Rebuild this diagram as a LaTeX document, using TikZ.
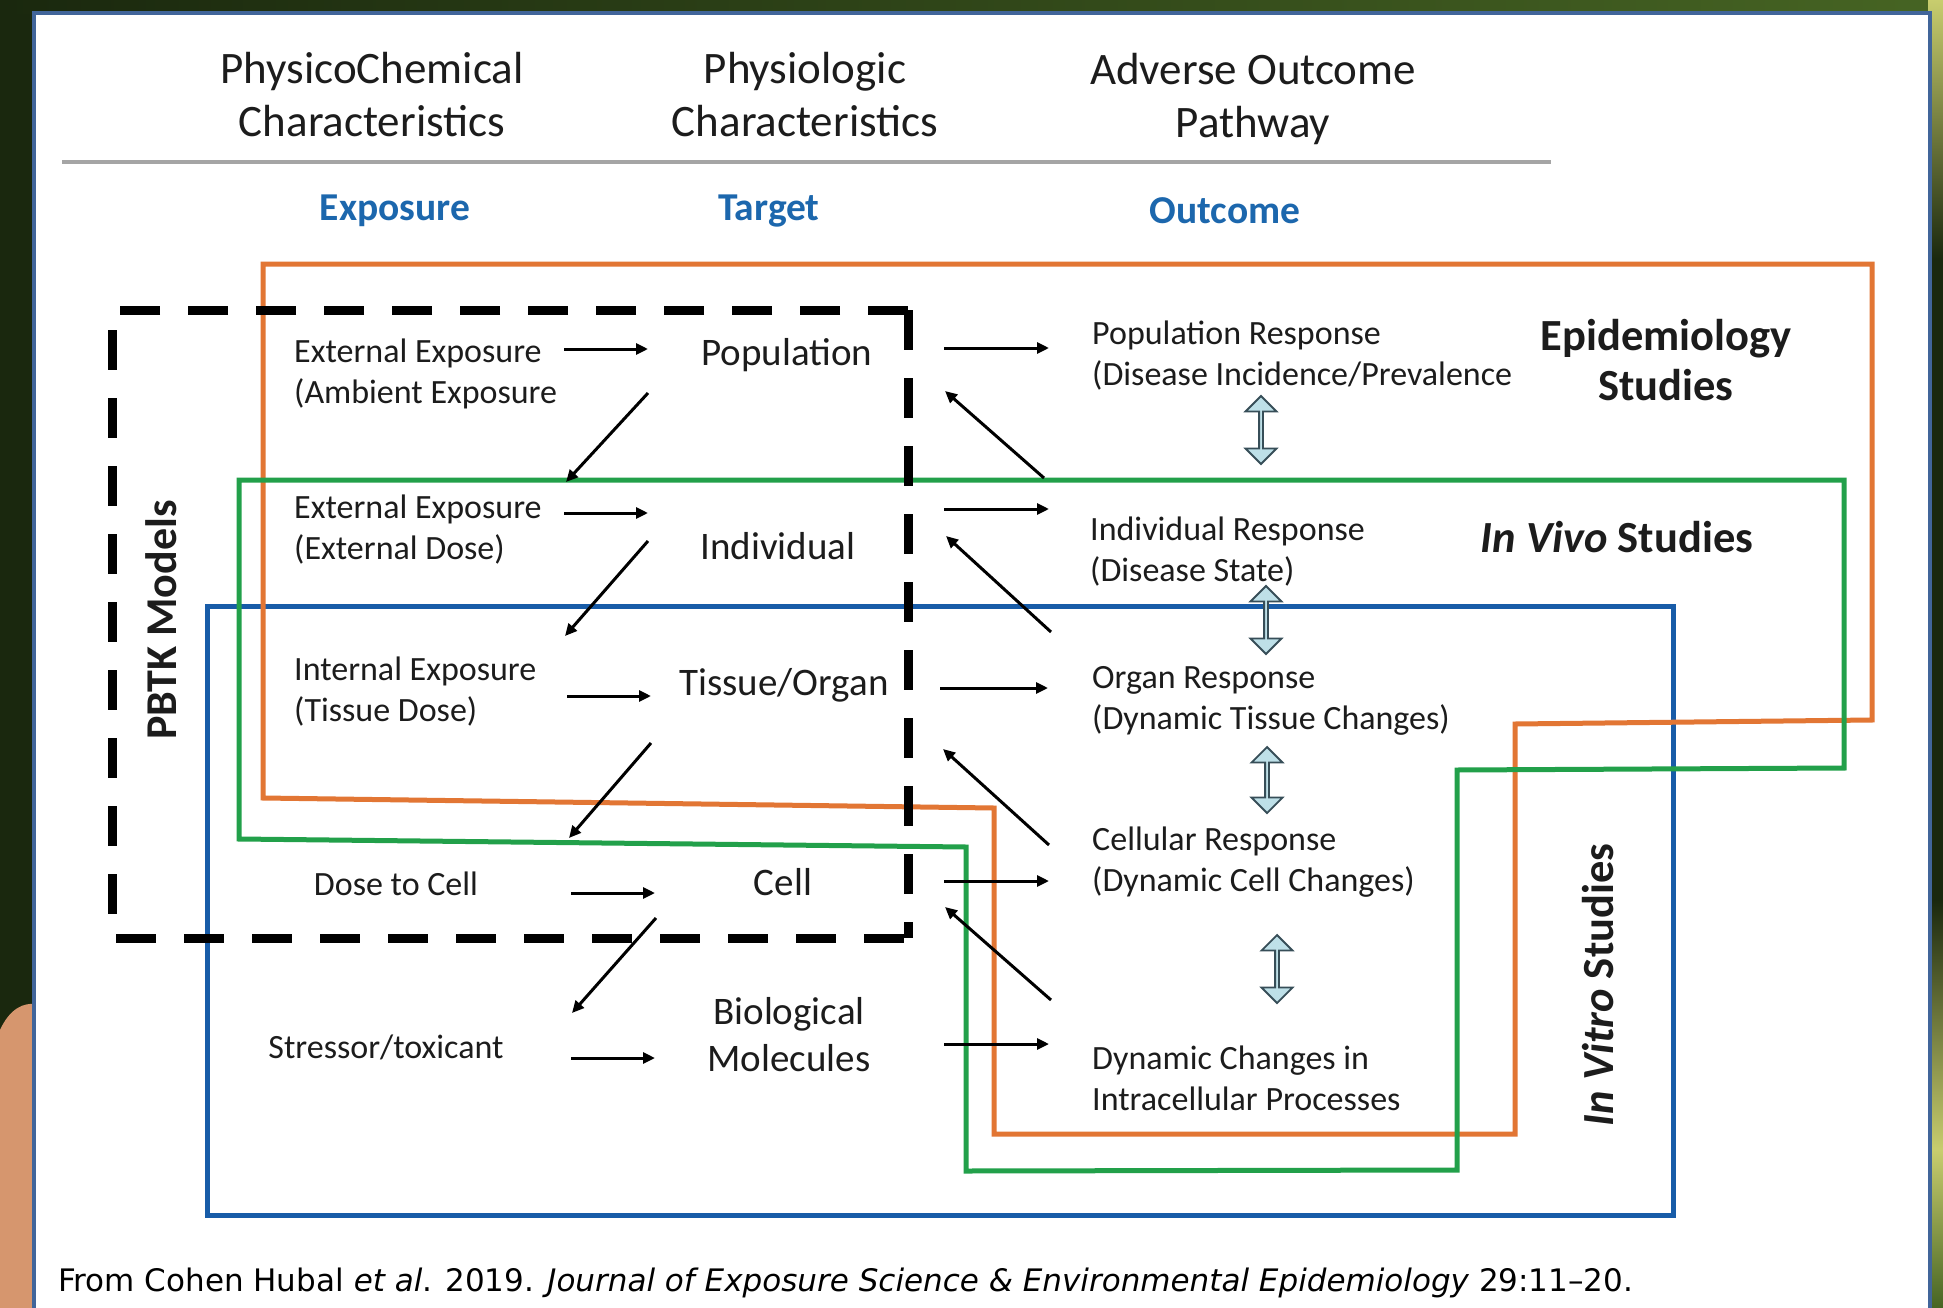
\documentclass[tikz,border=0pt]{standalone}
\usepackage{fontspec}
\setmainfont{Carlito}
\newfontfamily\capfont{DejaVu Sans}
\usetikzlibrary{arrows.meta,shapes.arrows}

\definecolor{panelrim}{RGB}{65,101,154}
\definecolor{rulegray}{RGB}{165,165,165}
\definecolor{headblue}{RGB}{28,103,173}
\definecolor{epiorange}{RGB}{226,118,52}
\definecolor{vivogreen}{RGB}{34,160,74}
\definecolor{vitroblue}{RGB}{24,92,168}
\definecolor{boxfill}{RGB}{190,224,232}
\definecolor{boxrim}{RGB}{55,78,88}
\definecolor{leafdark}{RGB}{26,40,14}
\definecolor{leafmid}{RGB}{70,100,35}
\definecolor{leaflight}{RGB}{200,205,110}
\definecolor{skin}{RGB}{214,150,110}
\definecolor{ink}{RGB}{28,28,28}

\begin{document}
\begin{tikzpicture}[x=1pt,y=-1pt,
  every node/.style={inner sep=0pt,text=ink},
  hdr/.style={font=\fontsize{45}{53}\selectfont,align=center},
  colhead/.style={font=\bfseries\fontsize{39.5}{46}\selectfont,text=headblue},
  lcol/.style={font=\fontsize{34}{41}\selectfont,align=left,anchor=west},
  ccol/.style={font=\fontsize{34}{41}\selectfont},
  mcol/.style={font=\fontsize{39}{47}\selectfont,align=center},
  study/.style={font=\bfseries\fontsize{44.5}{50}\selectfont,align=center},
  flow/.style={line width=3pt,-{Triangle[length=12pt,width=11pt]}},
  frameline/.style={line width=5pt,line join=miter},
  updown/.style={double arrow,draw=boxrim,fill=boxfill,line width=1.8pt,
    rotate=90,minimum width=31pt,double arrow head extend=6.5pt,
    double arrow tip angle=90,inner sep=0pt}]

\useasboundingbox (0,0) rectangle (1943,1308);
\clip (0,0) rectangle (1943,1308);

% slide background around the white panel
\fill[leafdark] (0,0) rectangle (1943,1308);
\shade[left color=leafdark,right color=leafmid] (0,0) rectangle (1943,14);
\shade[top color=leaflight,bottom color=leafdark] (1928,0) rectangle (1943,260);
\shade[top color=leafdark,bottom color=leaflight] (1928,900) rectangle (1943,1150);
\shade[top color=leaflight,bottom color=leafmid] (1928,1150) rectangle (1943,1308);
\fill[skin] (0,1308) -- (0,1030) .. controls (10,1008) and (24,1003) .. (34,1004) -- (34,1308) -- cycle;

% white panel
\filldraw[fill=white,draw=panelrim,line width=4pt] (34,13) rectangle (1930,1330);

% column titles
\node[hdr] (hphys) at (372,95) {PhysicoChemical\\Characteristics};
\node[hdr] (hphysio) at (805,95) {Physiologic\\Characteristics};
\node[hdr] (haop) at (1253,99) {Adverse Outcome\\Pathway};
\draw[rulegray,line width=4pt] (62,162) -- (1551,162);

\node[colhead] (cexp) at (395,211) {Exposure};
\node[colhead] (ctar) at (769,211) {Target};
\node[colhead] (cout) at (1225,211) {Outcome};

% study scopes
\draw[frameline,vitroblue] (207,606) rectangle (1673,1215);
\draw[frameline,epiorange] (263,264) -- (1872,264) -- (1872,720) -- (1515,724)
  -- (1515,1134) -- (994,1134) -- (994,808) -- (263,798) -- cycle;
\draw[frameline,vivogreen] (239,480) -- (1844,480) -- (1844,768) -- (1457,770)
  -- (1457,1170) -- (966,1171) -- (966,847) -- (239,839) -- cycle;

% PBTK model boundary
\draw[line width=9pt,dash pattern=on 40pt off 28pt] (908,310) -- (112,310) -- (112,938) -- (908,938);
\draw[line width=9pt,dash pattern=on 40pt off 28pt] (908,310) -- (908,938);
\node[font=\bfseries\fontsize{44}{50}\selectfont,rotate=90] (pbtk) at (161,620) {PBTK Models};

% exposure column
\node[lcol] (ex1) at (294,374) {External Exposure\\(Ambient Exposure};
\node[lcol] (ex2) at (294,530) {External Exposure\\(External Dose)};
\node[lcol] (ex3) at (294,692) {Internal Exposure\\(Tissue Dose)};
\node[ccol] (ex4) at (396,884) {Dose to Cell};
\node[ccol] (ex5) at (386,1047) {Stressor/toxicant};

% target column
\node[mcol] (tg1) at (787,355) {Population};
\node[mcol] (tg2) at (778,546) {Individual};
\node[mcol] (tg3) at (784,685) {Tissue/Organ};
\node[mcol] (tg4) at (783,882) {Cell};
\node[mcol] (tg5) at (789,1035) {Biological\\Molecules};

% outcome column
\node[lcol] (oc1) at (1092,356) {Population Response\\(Disease Incidence/Prevalence};
\node[lcol] (oc2) at (1090,552) {Individual Response\\(Disease State)};
\node[lcol] (oc3) at (1092,701) {Organ Response\\(Dynamic Tissue Changes)};
\node[lcol] (oc4) at (1092,862) {Cellular Response\\(Dynamic Cell Changes)};
\node[lcol] (oc5) at (1092,1078) {Dynamic Changes in\\Intracellular Processes};

% study labels
\node[study] (epi) at (1666,360) {Epidemiology\\Studies};
\node[study] (vivo) at (1617,537) {\textit{In Vivo} Studies};
\node[study,rotate=90] (vitro) at (1598,985) {\textit{In Vitro} Studies};

% exposure to target
\coordinate (p1a) at (564,349); \coordinate (p1b) at (648,349);
\coordinate (p2a) at (564,513); \coordinate (p2b) at (648,513);
\coordinate (p3a) at (567,696); \coordinate (p3b) at (651,696);
\coordinate (p4a) at (571,893); \coordinate (p4b) at (655,893);
\coordinate (p5a) at (571,1058); \coordinate (p5b) at (655,1058);
\foreach \k in {1,...,5} \draw[flow] (p\k a) -- (p\k b);

% target down to next exposure level
\coordinate (q1a) at (648,393); \coordinate (q1b) at (566,482);
\coordinate (q2a) at (648,541); \coordinate (q2b) at (565,636);
\coordinate (q3a) at (651,743); \coordinate (q3b) at (569,838);
\coordinate (q4a) at (656,918); \coordinate (q4b) at (572,1013);
\foreach \k in {1,...,4} \draw[flow] (q\k a) -- (q\k b);

% target to outcome
\coordinate (r1a) at (944,348); \coordinate (r1b) at (1049,348);
\coordinate (r2a) at (944,509); \coordinate (r2b) at (1049,509);
\coordinate (r3a) at (940,688); \coordinate (r3b) at (1048,688);
\coordinate (r4a) at (944,881); \coordinate (r4b) at (1049,881);
\coordinate (r5a) at (944,1044); \coordinate (r5b) at (1049,1044);
\foreach \k in {1,...,5} \draw[flow] (r\k a) -- (r\k b);

% outcome feeding back to target
\coordinate (s1a) at (1044,478); \coordinate (s1b) at (945,391);
\coordinate (s2a) at (1051,632); \coordinate (s2b) at (946,536);
\coordinate (s3a) at (1049,845); \coordinate (s3b) at (943,749);
\coordinate (s4a) at (1051,1000); \coordinate (s4b) at (945,907);
\foreach \k in {1,...,4} \draw[flow] (s\k a) -- (s\k b);

% links between outcome levels
\node[updown,minimum height=68pt] (ud1) at (1261,430) {};
\node[updown,minimum height=68pt] (ud2) at (1266,620) {};
\node[updown,minimum height=66pt] (ud3) at (1267,780) {};
\node[updown,minimum height=68pt] (ud4) at (1277,969) {};

% source line
\node[anchor=west,font=\capfont\fontsize{31}{36}\selectfont,text=black] (cite) at (58,1283)
  {From Cohen Hubal \textit{et al}. 2019. \textit{Journal of Exposure Science \& Environmental Epidemiology} 29:11–20.};
\end{tikzpicture}
\end{document}
